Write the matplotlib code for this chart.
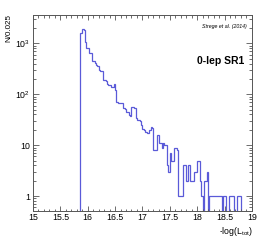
import numpy as np
import matplotlib
matplotlib.use("Agg")
import matplotlib.pyplot as plt
from matplotlib.ticker import MultipleLocator, LogLocator, FixedLocator, FixedFormatter

# ===================== data =====================
BIN_START = 15.85
BIN_WIDTH = 0.025
counts = [
    1570, 1560, 1890, 1800, 1060, 815, 800, 650, 640, 455,
    445, 410, 375, 365, 300, 290, 280, 190, 186, 180,
    157, 155, 150, 139, 140, 158, 120, 70, 68, 67,
    66, 66, 53, 52, 45, 44, 39, 38, 55, 56,
    54, 34, 31, 31, 30, 25, 21, 20, 18, 17,
    17, 20, 23, 22, 8, 8, 8, 16, 11, 11,
    9, 11, 10, 10, 4, 3, 7, 5, 5, 9,
    9, 8, 1, 1, 1, 1, 4, 4, 2, 4,
    4, 2, 2, 2, 3, 3, 5, 5, 2, 1,
    0, 2, 2, 3, 0, 1, 1, 1, 1, 1,
    1, 1, 1, 1, 0, 1, 1, 0, 0, 1,
    1, 1, 1, 0, 0, 1, 1, 1,
]
y_ticks = [1, 10, 100, 1000]
y_tick_labels = ["1", "10", r"$10^{2}$", r"$10^{3}$"]

plt.rcParams["font.family"] = ["Liberation Sans", "DejaVu Sans"]
plt.rcParams["mathtext.fontset"] = "custom"
plt.rcParams["mathtext.rm"] = "Liberation Sans"
plt.rcParams["mathtext.it"] = "Liberation Sans:italic"

counts = np.array(counts, dtype=float)
edges = BIN_START + BIN_WIDTH * np.arange(len(counts) + 1)
floor = 1e-2
draw_vals = np.where(counts > 0, counts, floor)

fig = plt.figure(figsize=(2.66, 2.41), dpi=100)
ax = fig.add_axes([0.124, 0.126, 0.823, 0.812])

ax.stairs(draw_vals, edges, baseline=floor, color="#5a5ad8", lw=0.9)

ax.set_yscale("log")
ax.set_xlim(15, 19)
ax.set_ylim(0.52, 3590)

ax.xaxis.set_major_locator(MultipleLocator(0.5))
ax.xaxis.set_minor_locator(MultipleLocator(0.1))
ax.xaxis.set_major_formatter(matplotlib.ticker.FormatStrFormatter("%g"))
ax.yaxis.set_major_locator(FixedLocator(y_ticks))
ax.yaxis.set_major_formatter(FixedFormatter(y_tick_labels))
ax.yaxis.set_minor_locator(LogLocator(base=10, subs=np.arange(2, 10)))
ax.yaxis.set_minor_formatter(matplotlib.ticker.NullFormatter())

ax.tick_params(which="both", direction="in", top=True, right=True,
               labelsize=6.3, color="#555555", width=0.6, pad=2)
ax.tick_params(axis="x", which="major", length=3.5)
ax.tick_params(axis="x", which="minor", length=1.8)
ax.tick_params(axis="y", which="major", length=4.5)
ax.tick_params(axis="y", which="minor", length=2.2)
for s in ax.spines.values():
    s.set_color("#555555")
    s.set_linewidth(0.7)

fig.text(0.035, 0.94, "N/0.025", rotation=90, ha="center", va="top", fontsize=5.8)
fig.text(0.951, 0.012, r"-log(L$_{\mathrm{tot}}$)", ha="right", va="bottom", fontsize=6.3)
ax.text(0.975, 0.955, "Strege et al. (2014)", transform=ax.transAxes,
        ha="right", va="top", fontsize=3.8, style="italic")
ax.text(0.965, 0.765, "0-lep SR1", transform=ax.transAxes,
        ha="right", va="center", fontsize=7.5, fontweight="bold")

fig.savefig("out.png", dpi=100)
